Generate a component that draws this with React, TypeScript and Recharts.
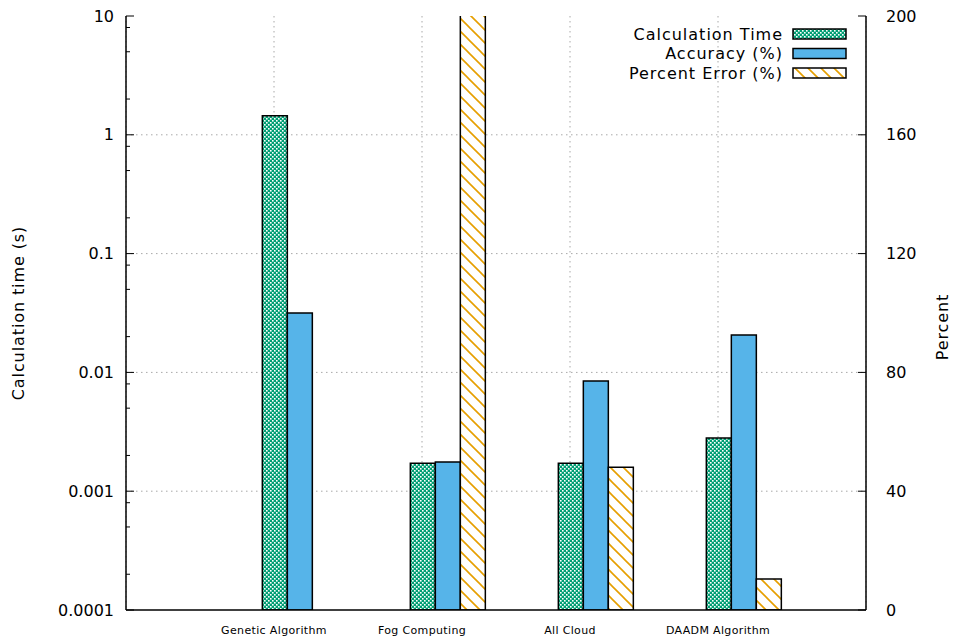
import React from 'react';
import { BarChart, Bar, XAxis, YAxis, CartesianGrid, Legend } from 'recharts';

// Categories and measured values
const categories = ['Genetic Algorithm', 'Fog Computing', 'All Cloud', 'DAADM Algorithm'];
const calculationTime = [1.45, 0.00172, 0.00172, 0.0028]; // seconds (log axis)
const accuracy = [100, 49.8, 77.1, 92.6]; // percent
const percentError: (number | null)[] = [null, 250, 48.1, 10.4]; // percent (Fog Computing exceeds the axis)

// Axis ticks
const timeTicks = [0.0001, 0.001, 0.01, 0.1, 1, 10];
const timeMinorTicks = [
  0.0002, 0.0005, 0.0008,
  0.002, 0.005, 0.008,
  0.02, 0.05, 0.08,
  0.2, 0.5, 0.8,
  2, 5, 8,
];
const percentTicks = [0, 40, 80, 120, 160, 200];

const seriesNames = ['Calculation Time', 'Accuracy (%)', 'Percent Error (%)'];

const FONT = '"DejaVu Sans", Verdana, sans-serif';
const GREEN = '#009e73';
const BLUE = '#56b4e9';
const ORANGE = '#e69f00';
const GRID = '#a8a8a8';

const rows = categories.map((category, i) => ({
  category,
  time: calculationTime[i],
  accuracy: accuracy[i],
  error: percentError[i],
}));

const swatchFills = ['url(#checkerLegend)', BLUE, 'url(#hatchLegend)'];

const TimeTick = (props: any) => {
  const { x, y, payload } = props;
  const major = timeTicks.includes(payload.value);
  return (
    <g>
      <line x1={x} x2={x + (major ? 8 : 4)} y1={y} y2={y} stroke="#000" strokeWidth={1} />
      {major && (
        <text
          x={x - 12}
          y={y}
          textAnchor="end"
          dominantBaseline="central"
          fontFamily={FONT}
          fontSize={16}
          fill="#000"
        >
          {String(payload.value)}
        </text>
      )}
    </g>
  );
};

const CategoryTick = (props: any) => {
  const { x, y, payload } = props;
  return (
    <text
      x={x}
      y={y + 20}
      textAnchor="middle"
      dominantBaseline="central"
      fontFamily={FONT}
      fontSize={11}
      letterSpacing={0.35}
      fill="#000"
    >
      {payload.value}
    </text>
  );
};

const LeftTitle = (props: any) => {
  const { viewBox } = props;
  const cx = viewBox.x + 18;
  const cy = viewBox.y + viewBox.height / 2;
  return (
    <text
      x={cx}
      y={cy}
      transform={`rotate(-90 ${cx} ${cy})`}
      textAnchor="middle"
      dominantBaseline="central"
      fontFamily={FONT}
      fontSize={16}
      letterSpacing={0.9}
      fill="#000"
    >
      Calculation time (s)
    </text>
  );
};

const RightTitle = (props: any) => {
  const { viewBox } = props;
  const cx = viewBox.x + 76;
  const cy = viewBox.y + viewBox.height / 2 + 14;
  return (
    <text
      x={cx}
      y={cy}
      transform={`rotate(-90 ${cx} ${cy})`}
      textAnchor="middle"
      dominantBaseline="central"
      fontFamily={FONT}
      fontSize={16}
      letterSpacing={0.9}
      fill="#000"
    >
      Percent
    </text>
  );
};

const LegendBox = () => (
  <svg width={260} height={80} style={{ display: 'block', overflow: 'visible' }}>
    <defs>
      <pattern id="checkerLegend" patternUnits="userSpaceOnUse" width={4} height={4}>
        <rect width={4} height={4} fill={GREEN} />
        <rect x={0} y={0} width={1.6} height={1.6} fill="#fff" />
        <rect x={2} y={2} width={1.6} height={1.6} fill="#fff" />
      </pattern>
      <pattern id="hatchLegend" patternUnits="userSpaceOnUse" width={13} height={13}>
        <rect width={13} height={13} fill="#fff" />
        <path d="M-1,-1 L14,14 M-1,12 L1,14 M12,-1 L14,1" stroke={ORANGE} strokeWidth={1.6} />
      </pattern>
    </defs>
    {seriesNames.map((name, i) => {
      const cy = 18 + i * 19.5;
      return (
        <g key={name}>
          <text
            x={183}
            y={cy}
            textAnchor="end"
            dominantBaseline="central"
            fontFamily={FONT}
            fontSize={16}
            letterSpacing={1}
            fill="#000"
          >
            {name}
          </text>
          <rect x={193} y={cy - 5} width={53} height={10} fill={swatchFills[i]} stroke="#000" strokeWidth={1.5} />
        </g>
      );
    })}
  </svg>
);

export default function App() {
  return (
    <div style={{ position: 'absolute', left: 0, top: 0 }}>
      <BarChart
        width={957}
        height={644}
        data={rows}
        margin={{ top: 16, right: 0, bottom: 0, left: 0 }}
        barGap={0}
        barCategoryGap="8.3333%"
      >
        <defs>
          <pattern id="checker" patternUnits="userSpaceOnUse" width={4} height={4}>
            <rect width={4} height={4} fill={GREEN} />
            <rect x={0} y={0} width={1.6} height={1.6} fill="#fff" />
            <rect x={2} y={2} width={1.6} height={1.6} fill="#fff" />
          </pattern>
          <pattern id="hatch" patternUnits="userSpaceOnUse" width={13} height={13}>
            <rect width={13} height={13} fill="#fff" />
            <path d="M-1,-1 L14,14 M-1,12 L1,14 M12,-1 L14,1" stroke={ORANGE} strokeWidth={1.6} />
          </pattern>
        </defs>

        <CartesianGrid
          xAxisId="cat"
          yAxisId="left"
          horizontalValues={[0.001, 0.01, 0.1, 1]}
          stroke={GRID}
          strokeDasharray="1.5 3.5"
        />

        <XAxis
          xAxisId="cat"
          dataKey="category"
          height={34}
          padding={{ left: 74, right: 74 }}
          interval={0}
          tickLine={false}
          tickSize={0}
          tickMargin={0}
          axisLine={{ stroke: '#000', strokeWidth: 1.5 }}
          tick={<CategoryTick />}
        />
        <XAxis
          xAxisId="top"
          orientation="top"
          dataKey="category"
          height={0}
          padding={{ left: 74, right: 74 }}
          interval={0}
          tickSize={-8}
          tick={false}
          tickLine={{ stroke: '#000', strokeWidth: 1 }}
          axisLine={{ stroke: '#000', strokeWidth: 1.5 }}
        />

        <YAxis
          yAxisId="left"
          orientation="left"
          width={126}
          scale="log"
          domain={[0.0001, 10]}
          allowDataOverflow
          ticks={[...timeTicks, ...timeMinorTicks]}
          interval={0}
          tickLine={false}
          tickSize={0}
          tickMargin={0}
          tick={<TimeTick />}
          axisLine={{ stroke: '#000', strokeWidth: 1.5 }}
          label={LeftTitle}
        />
        <YAxis
          yAxisId="right"
          orientation="right"
          width={91}
          domain={[0, 200]}
          allowDataOverflow
          ticks={percentTicks}
          interval={0}
          tickSize={-8}
          tickMargin={28}
          tickLine={{ stroke: '#000', strokeWidth: 1 }}
          tick={{ fill: '#000', fontSize: 16, fontFamily: FONT }}
          axisLine={{ stroke: '#000', strokeWidth: 1.5 }}
          label={RightTitle}
        />

        {/* two empty slots so the first series sits on the category tick */}
        <Bar xAxisId="cat" yAxisId="left" dataKey="slotA" isAnimationActive={false} />
        <Bar xAxisId="cat" yAxisId="left" dataKey="slotB" isAnimationActive={false} />

        <Bar
          xAxisId="cat"
          yAxisId="left"
          dataKey="time"
          name={seriesNames[0]}
          fill="url(#checker)"
          stroke="#000"
          strokeWidth={1.5}
          isAnimationActive={false}
        />
        <Bar
          xAxisId="cat"
          yAxisId="right"
          dataKey="accuracy"
          name={seriesNames[1]}
          fill={BLUE}
          stroke="#000"
          strokeWidth={1.5}
          isAnimationActive={false}
        />
        <Bar
          xAxisId="cat"
          yAxisId="right"
          dataKey="error"
          name={seriesNames[2]}
          fill="url(#hatch)"
          stroke="#000"
          strokeWidth={1.5}
          isAnimationActive={false}
        />

        <Legend
          layout="vertical"
          align="center"
          verticalAlign="middle"
          content={LegendBox}
          wrapperStyle={{ left: 600, top: 16, width: 260, height: 80 }}
        />
      </BarChart>
    </div>
  );
}
